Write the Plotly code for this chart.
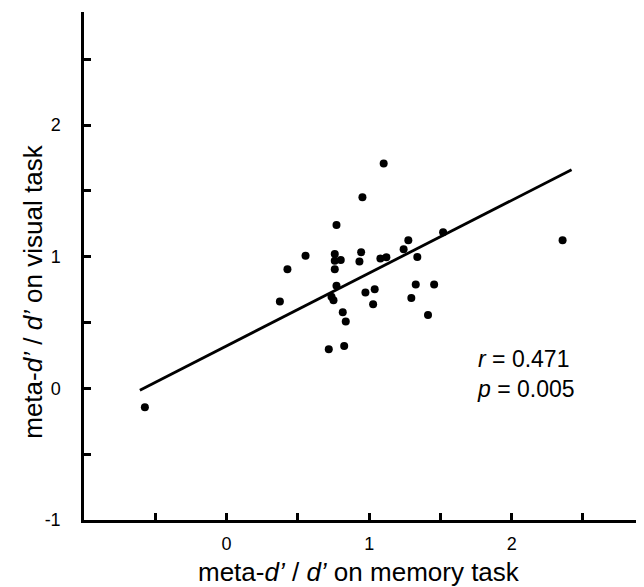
import plotly.graph_objects as go

memory_x = [1.102, 0.953, 0.771, 0.554, 0.427, 0.374, 0.759, 0.759, 0.801, 0.759,
            0.944, 0.932, 1.079, 1.121, 1.242, 1.275, 1.519, 1.338, 0.771, 0.736,
            0.750, 0.974, 1.039, 1.028, 1.327, 1.456, 1.296, 1.413, 0.815, 0.836,
            0.717, 0.825, -0.573, 2.357]
visual_y = [1.708, 1.453, 1.241, 1.008, 0.906, 0.661, 1.022, 0.969, 0.976, 0.906,
            1.035, 0.964, 0.987, 0.997, 1.058, 1.126, 1.187, 0.999, 0.779, 0.696,
            0.670, 0.729, 0.754, 0.640, 0.790, 0.790, 0.686, 0.557, 0.579, 0.509,
            0.298, 0.323, -0.144, 1.126]

fit_x = [-0.608, 2.42]
fit_slope = 0.553
fit_intercept = 0.323
fit_y = [fit_intercept + fit_slope * v for v in fit_x]

x_tickvals = [-0.5, 0, 0.5, 1, 1.5, 2, 2.5]
x_ticktext = ["", "0", "", "1", "", "2", ""]
y_tickvals = [-1, -0.5, 0, 0.5, 1, 1.5, 2, 2.5]
y_ticktext = ["-1", "", "0", "", "1", "", "2", ""]

x_title = "meta-<i>d’</i> / <i>d’</i> on memory task"
y_title = "meta-<i>d’</i> / <i>d’</i> on visual task"
stats_text = "<i>r</i> = 0.471<br><i>p</i> = 0.005"

FONT = "Liberation Sans, Arial, sans-serif"

fig = go.Figure()
fig.add_trace(go.Scatter(x=fit_x, y=fit_y, mode="lines",
                         line=dict(color="black", width=2.8), showlegend=False,
                         hoverinfo="skip"))
fig.add_trace(go.Scatter(x=memory_x, y=visual_y, mode="markers",
                         marker=dict(color="black", size=8), showlegend=False))

fig.add_annotation(x=0.703, y=0.287, xref="paper", yref="paper",
                   text=stats_text, showarrow=False,
                   align="left", xanchor="left", yanchor="middle",
                   font=dict(family=FONT, size=23, color="black"))
fig.add_annotation(x=0.495, y=-0.102, xref="paper", yref="paper",
                   text=x_title, showarrow=False, xanchor="center", yanchor="middle",
                   font=dict(family=FONT, size=26, color="black"))
fig.add_annotation(x=-0.092, y=0.449, xref="paper", yref="paper",
                   text=y_title, showarrow=False, textangle=-90,
                   xanchor="center", yanchor="middle",
                   font=dict(family=FONT, size=26, color="black"))

fig.update_layout(
    width=644, height=587,
    margin=dict(l=76, r=12, t=4, b=75),
    paper_bgcolor="white", plot_bgcolor="white",
    font=dict(family=FONT, color="black"),
    xaxis=dict(range=[-1, 2.9], showgrid=False, zeroline=False, showline=True,
               linecolor="black", linewidth=2.5, ticks="inside", ticklen=7,
               tickwidth=2.5, tickcolor="black", tickvals=x_tickvals,
               ticktext=x_ticktext, tickfont=dict(size=18, family=FONT),
               ticklabelstandoff=6, automargin=False),
    yaxis=dict(range=[-1, 2.86], showgrid=False, zeroline=False, showline=True,
               linecolor="black", linewidth=2.5, ticks="inside", ticklen=7,
               tickwidth=2.5, tickcolor="black", tickvals=y_tickvals,
               ticktext=y_ticktext, tickfont=dict(size=18, family=FONT),
               ticklabelstandoff=17, automargin=False),
)

fig.write_html("out.html")
